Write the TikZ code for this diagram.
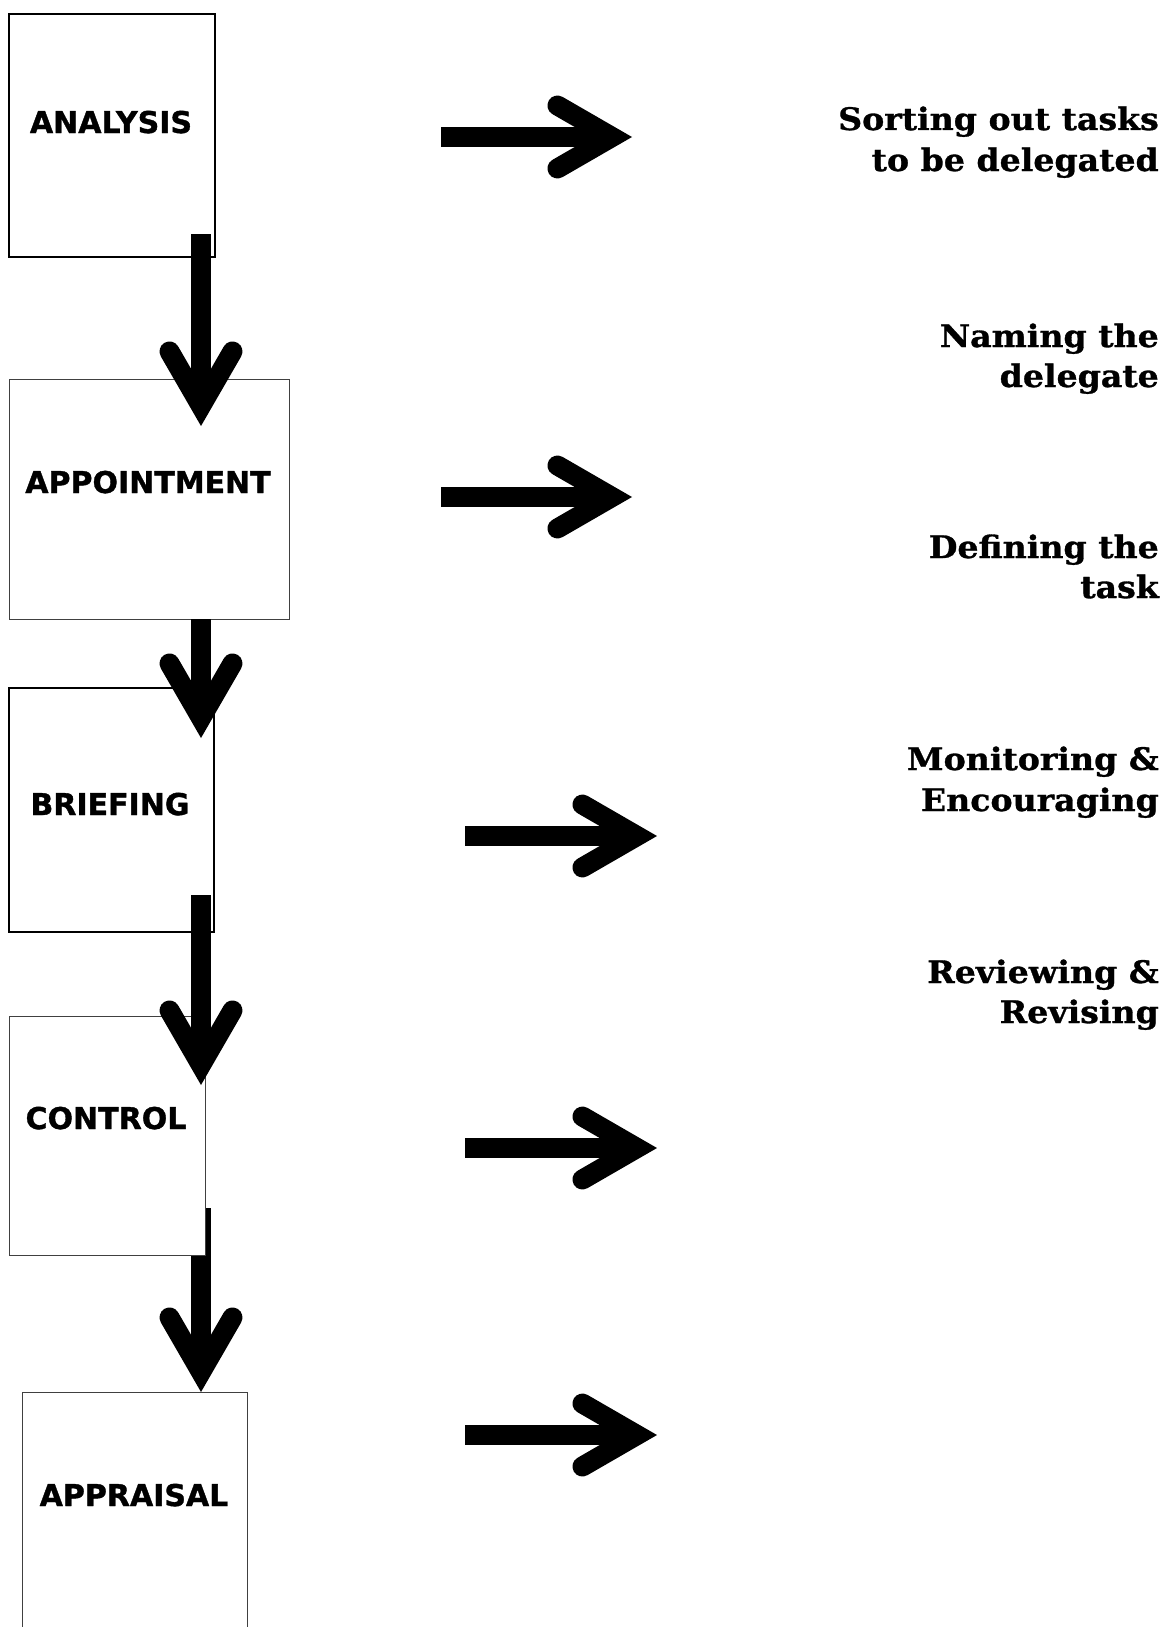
\documentclass[tikz,border=0pt]{standalone}
\usepackage{fontspec}
\setmainfont{DejaVu Serif}
\newfontfamily\boxfont{DejaVu Sans}[UprightFont={* Bold}, FakeBold=1.2]
\newfontfamily\stepfont{DejaVu Serif}[UprightFont={* Bold}, FakeStretch=1.07, FakeBold=1]
\usetikzlibrary{calc}
\tikzset{
  stage/.style={draw=black, line width=2.5pt, fill=white, inner sep=0pt, outer sep=0pt, anchor=north west},
  stagethin/.style={stage, line width=1pt, draw=black!75},
  stagelabel/.style={font=\boxfont\fontsize{30}{30}\selectfont, anchor=base, inner sep=0pt},
  steplabel/.style={font=\stepfont\fontsize{31}{31}\selectfont, anchor=base east, inner sep=0pt},
  fatshaft/.style={line width=20pt, line cap=butt},
  fathead/.style={line width=20pt, line cap=round, line join=miter},
}
\newcommand\fatarrow[2]{%
  \coordinate (fa-j) at ($(#2)!20pt!(#1)$);
  \draw[fatshaft] (#1) -- (fa-j);
  \draw[fathead] ($(fa-j)!63pt!30:(#1)$) -- (fa-j) -- ($(fa-j)!63pt!-30:(#1)$);
}
\begin{document}
\begin{tikzpicture}[x=1pt,y=-1pt]
\clip (0,0) rectangle (1167,1627);
\fill[white] (0,0) rectangle (1167,1627);
% boxes
\node[stage, minimum width=206pt, minimum height=243pt] (analysis) at (9,14) {};
\node[stagethin, minimum width=280pt, minimum height=240pt] (appointment) at (9,379) {};
\node[stage, minimum width=205pt, minimum height=244pt] (briefing) at (9,688) {};
\node[stagethin, minimum width=225pt, minimum height=260pt] (appraisal) at (22,1392) {};
% connector coordinates
\coordinate (a1s) at (201,234);  \coordinate (a1t) at (201,426);
\coordinate (a2s) at (201,619);  \coordinate (a2t) at (201,738);
\coordinate (a3s) at (201,895);  \coordinate (a3t) at (201,1085);
\coordinate (a4s) at (201,1208); \coordinate (a4t) at (201,1392);
\coordinate (h1s) at (441,137);  \coordinate (h1t) at (632,137);
\coordinate (h2s) at (441,497);  \coordinate (h2t) at (632,497);
\coordinate (h3s) at (465,836);  \coordinate (h3t) at (657,836);
\coordinate (h4s) at (465,1148); \coordinate (h4t) at (657,1148);
\coordinate (h5s) at (465,1435); \coordinate (h5t) at (657,1435);
\fatarrow{a4s}{a4t}
\node[stagethin, minimum width=196pt, minimum height=239pt] (control) at (9,1016) {};
\fatarrow{a1s}{a1t}
\fatarrow{a2s}{a2t}
\fatarrow{a3s}{a3t}
\fatarrow{h1s}{h1t}
\fatarrow{h2s}{h2t}
\fatarrow{h3s}{h3t}
\fatarrow{h4s}{h4t}
\fatarrow{h5s}{h5t}
% box labels
\node[stagelabel] (analysisT) at (111,133) {ANALYSIS};
\node[stagelabel] (appointmentT) at (148,493) {APPOINTMENT};
\node[stagelabel] (briefingT) at (110,815) {BRIEFING};
\node[stagelabel] (controlT) at (106,1129) {CONTROL};
\node[stagelabel] (appraisalT) at (134,1506) {APPRAISAL};
% right texts
\node[steplabel] (t1a) at (1159,130) {Sorting out tasks};
\node[steplabel] (t1b) at (1159,171) {to be delegated};
\node[steplabel] (t2a) at (1159,347) {Naming the};
\node[steplabel] (t2b) at (1159,387) {delegate};
\node[steplabel] (t3a) at (1159,558) {Defining the};
\node[steplabel] (t3b) at (1159,598) {task};
\node[steplabel] (t4a) at (1159,770) {Monitoring \&};
\node[steplabel] (t4b) at (1159,811) {Encouraging};
\node[steplabel] (t5a) at (1159,983) {Reviewing \&};
\node[steplabel] (t5b) at (1159,1023) {Revising};
\end{tikzpicture}
\end{document}
